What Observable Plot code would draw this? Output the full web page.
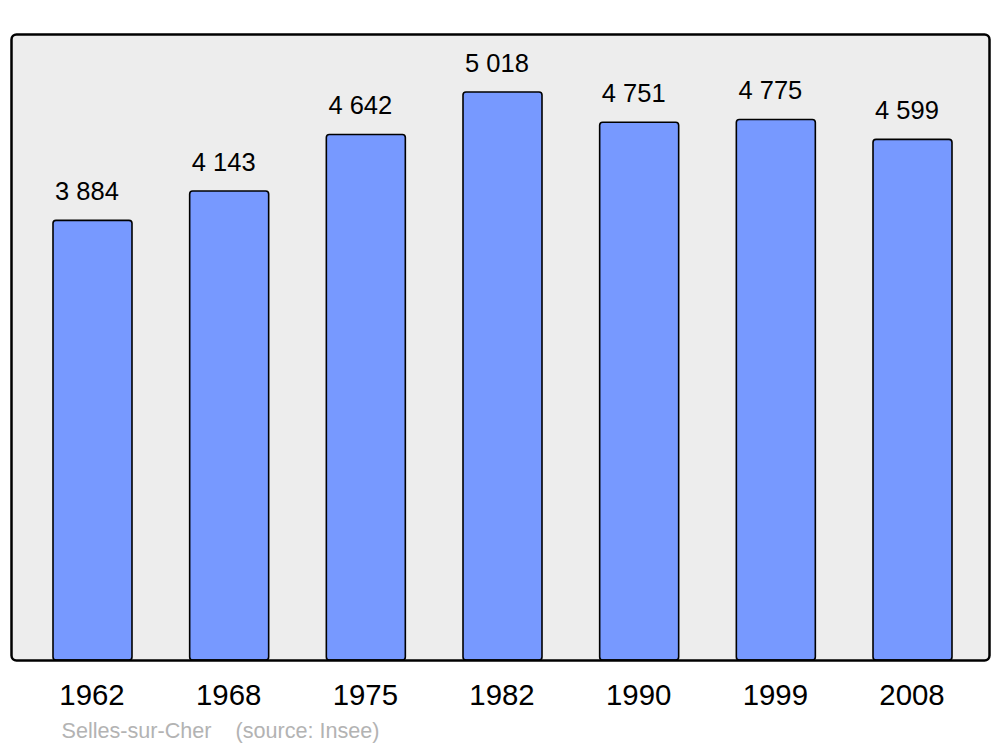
<!DOCTYPE html>
<html>
<head>
<meta charset="utf-8">
<script src="https://cdn.jsdelivr.net/npm/d3@7"></script>
<script src="https://cdn.jsdelivr.net/npm/@observablehq/plot@0.6"></script>
<style>
  html, body { margin: 0; padding: 0; background: #ffffff; }
</style>
</head>
<body>
<div id="chart"></div>
<script>
const years = ["1962", "1968", "1975", "1982", "1990", "1999", "2008"];
const population = [3884, 4143, 4642, 5018, 4751, 4775, 4599];
const captionText = "Selles-sur-Cher\u00a0\u00a0\u00a0\u00a0(source: Insee)";

const data = years.map((y, i) => ({year: y, pop: population[i]}));
const fmt = d3.formatLocale({thousands: " ", grouping: [3], decimal: ",", currency: ["", ""]}).format(",");

const chart = Plot.plot({
  width: 1000,
  height: 747,
  marginLeft: 11,
  marginRight: 11,
  marginTop: 34,
  marginBottom: 87,
  style: {fontFamily: "'Liberation Sans', Arial, sans-serif", background: "#ffffff", color: "#000"},
  x: {domain: years, range: [53, 952], paddingInner: 0.422, paddingOuter: 0, round: false, label: null},
  y: {domain: [0, 5530], axis: null},
  marks: [
    Plot.frame({fill: "#ededed", stroke: "none", rx: 5}),
    Plot.barY(data, {x: "year", y: "pop", fill: "#7799ff", stroke: "#000", strokeWidth: 1.6, rx: 3}),
    Plot.text(data, {x: "year", y: "pop", text: d => fmt(d.pop), fontSize: 25.5, lineAnchor: "middle", dy: -29, dx: -6, fill: "#000"}),
    Plot.frame({fill: "none", stroke: "#000", strokeWidth: 2.5, rx: 5}),
    Plot.axisX({tickSize: 0, tickPadding: 24, fontSize: 29.4, fill: "#000", label: null, dx: -1}),
    Plot.text([captionText], {frameAnchor: "bottom-left", dx: 50, dy: 71, lineAnchor: "middle", textAnchor: "start", fontSize: 21.6, fill: "#b3b3b3"})
  ]
});
document.getElementById("chart").appendChild(chart);
</script>
</body>
</html>
